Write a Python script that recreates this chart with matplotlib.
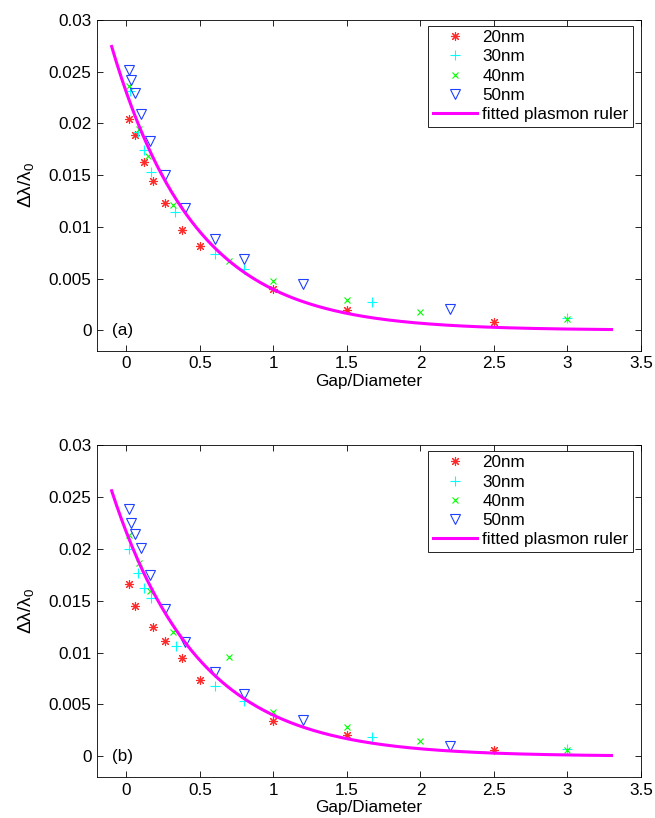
import numpy as np
import matplotlib
matplotlib.use("Agg")
import matplotlib.pyplot as plt

plt.rcParams['font.family'] = ['Liberation Sans', 'DejaVu Sans']
plt.rcParams['mathtext.fontset'] = 'custom'
plt.rcParams['mathtext.rm'] = 'Liberation Sans'
plt.rcParams['mathtext.it'] = 'Liberation Sans'
plt.rcParams['mathtext.bf'] = 'Liberation Sans'

# panel (a)
x20_a = [0.02, 0.06, 0.12, 0.18, 0.26, 0.38, 0.5, 1.0, 1.5, 2.5]
y20_a = [0.0204, 0.0189, 0.0163, 0.0144, 0.0123, 0.0097, 0.0081, 0.0040, 0.0020, 0.0008]
x30_a = [0.024, 0.08, 0.12, 0.17, 0.33, 0.6, 0.8, 1.67, 3.0]
y30_a = [0.0231, 0.0192, 0.0174, 0.0153, 0.0114, 0.0074, 0.0059, 0.0027, 0.0012]
x40_a = [0.02, 0.085, 0.15, 0.32, 0.7, 1.0, 1.5, 2.0, 3.0]
y40_a = [0.0236, 0.0195, 0.0168, 0.0121, 0.0067, 0.0048, 0.0029, 0.0018, 0.0011]
x50_a = [0.02, 0.034, 0.058, 0.10, 0.16, 0.26, 0.40, 0.60, 0.80, 1.2, 2.2]
y50_a = [0.0252, 0.0242, 0.0229, 0.0209, 0.0183, 0.0150, 0.0118, 0.0088, 0.0069, 0.0045, 0.0021]
fit_a = (0.0230, 0.567)   # amplitude, decay length

# panel (b)
x20_b = [0.02, 0.06, 0.18, 0.26, 0.38, 0.5, 1.0, 1.5, 2.5]
y20_b = [0.0166, 0.0145, 0.0125, 0.0111, 0.0095, 0.0074, 0.0034, 0.0021, 0.00065]
x30_b = [0.02, 0.08, 0.12, 0.17, 0.335, 0.6, 0.8, 1.67, 3.0]
y30_b = [0.0200, 0.0177, 0.0162, 0.0153, 0.0106, 0.0068, 0.0053, 0.0019, 0.0007]
x40_b = [0.02, 0.085, 0.16, 0.32, 0.7, 1.0, 1.5, 2.0, 3.0]
y40_b = [0.0213, 0.0186, 0.0159, 0.0120, 0.0096, 0.0043, 0.0028, 0.0015, 0.00065]
x50_b = [0.02, 0.034, 0.058, 0.10, 0.16, 0.26, 0.40, 0.60, 0.80, 1.2, 2.2]
y50_b = [0.0238, 0.0225, 0.0214, 0.0201, 0.0175, 0.0142, 0.0110, 0.0081, 0.0060, 0.0035, 0.0010]
fit_b = (0.0216, 0.59)

fit_range = (-0.1, 3.3)
labels = ['20nm', '30nm', '40nm', '50nm', 'fitted plasmon ruler']
xticks = [0, 0.5, 1, 1.5, 2, 2.5, 3, 3.5]
yticks = [0, 0.005, 0.01, 0.015, 0.02, 0.025, 0.03]
yticklabels = ['0', '0.005', '0.01', '0.015', '0.02', '0.025', '0.03']

FS = 12.3


def panel(ax, series, fit, tag):
    styles = [
        dict(marker=(8, 2, 0), color='#ff2a2a', ms=6.5),
        dict(marker='+', color='#00ffff', ms=7),
        dict(marker='x', color='#00ff00', ms=5),
        dict(marker='v', color='#2040ff', ms=7, mfc='none'),
    ]
    for (xs, ys), st, lab in zip(series, styles, labels):
        ax.plot(xs, ys, ls='none', marker=st['marker'], color=st['color'],
                ms=st['ms'], mew=0.8, mfc=st.get('mfc', st['color']),
                label=lab)
    xf = np.linspace(fit_range[0], fit_range[1], 300)
    amp, tau = fit
    ax.plot(xf, amp * np.exp(-xf / tau), color='#ff00ff', lw=2.2, label=labels[4])

    ax.set_xlim(-0.2, 3.5)
    ax.set_ylim(-0.002, 0.03)
    ax.set_xticks(xticks)
    ax.set_xticklabels([f'{t:g}' for t in xticks])
    ax.set_yticks(yticks)
    ax.set_yticklabels(yticklabels)
    ax.tick_params(direction='in', top=True, right=True, length=4, width=0.6,
                   labelsize=FS, pad=4)
    for s in ax.spines.values():
        s.set_linewidth(0.6)
    ax.set_xlabel('Gap/Diameter', fontsize=FS, labelpad=2)
    ax.set_ylabel(r'$\Delta\lambda/\lambda_0$', fontsize=FS + 1.5, labelpad=9)
    ax.text(-0.1, 0, tag, fontsize=FS, va='center', ha='left')
    leg = ax.legend(loc='upper right', bbox_to_anchor=(0.985, 0.982),
                    fontsize=FS, numpoints=1, handlelength=2.6,
                    handletextpad=0.3, labelspacing=0.25, borderpad=0.25,
                    fancybox=False, framealpha=1, edgecolor='black',
                    borderaxespad=0)
    leg.get_frame().set_linewidth(0.6)


fig = plt.figure(figsize=(6.55, 8.18), dpi=100)
ax1 = fig.add_axes([0.148, 0.571, 0.8305, 0.4046])
ax2 = fig.add_axes([0.148, 0.050, 0.8305, 0.406])

panel(ax1, [(x20_a, y20_a), (x30_a, y30_a), (x40_a, y40_a), (x50_a, y50_a)], fit_a, '(a)')
panel(ax2, [(x20_b, y20_b), (x30_b, y30_b), (x40_b, y40_b), (x50_b, y50_b)], fit_b, '(b)')

fig.savefig('out.png', dpi=100)
